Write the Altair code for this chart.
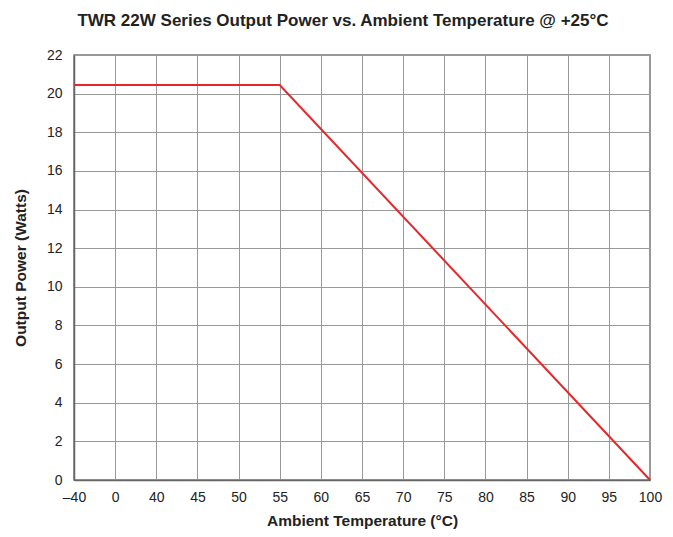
import altair as alt
import pandas as pd

x_labels = ["–40", "0", "40", "45", "50", "55", "60", "65", "70", "75", "80", "85", "90", "95", "100"]
line_temps = ["–40", "55", "100"]
line_power = [20.45, 20.45, 0]

df = pd.DataFrame({"temp": line_temps, "power": line_power})

chart = alt.Chart(df).mark_line(color="#e8262a", strokeWidth=2).encode(
    x=alt.X("temp:O", scale=alt.Scale(type="point", domain=x_labels, padding=0),
            sort=x_labels,
            axis=alt.Axis(title="Ambient Temperature (°C)", labelAngle=0, grid=True,
                          tickSize=0, labelPadding=10, titlePadding=9)),
    y=alt.Y("power:Q", scale=alt.Scale(domain=[0, 22], nice=False),
            axis=alt.Axis(title="Output Power (Watts)", values=list(range(0, 23, 2)),
                          tickSize=0, labelPadding=12, titlePadding=18)),
).properties(
    width=657, height=521,
    autosize=alt.AutoSizeParams(type="fit", contains="padding"),
    title=alt.TitleParams("TWR 22W Series Output Power vs. Ambient Temperature @ +25°C",
                          fontSize=17, font="Liberation Sans", fontWeight="bold",
                          color="#222", offset=18, dx=-19),
    padding={"left": 5, "top": 4, "right": 3, "bottom": 0},
).configure_axis(
    labelFont="Liberation Sans", labelFontSize=14, labelColor="#222",
    titleFont="Liberation Sans", titleFontSize=15.5, titleFontWeight="bold", titleColor="#222",
    gridColor="#999", gridOpacity=1, gridWidth=1,
    domainColor="#666", domainWidth=1.5,
).configure_view(stroke="#777", strokeWidth=1.5)

chart.save("out.html", embed_options={"renderer": "svg", "actions": False})
